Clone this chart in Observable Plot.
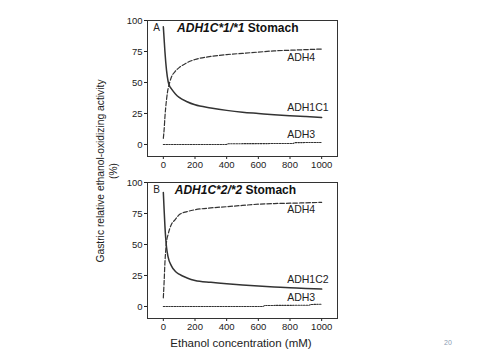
<!DOCTYPE html>
<html>
<head>
<meta charset="utf-8">
<script src="https://cdn.jsdelivr.net/npm/d3@7"></script>
<script src="https://cdn.jsdelivr.net/npm/@observablehq/plot@0.6"></script>
<style>
  html, body { margin: 0; padding: 0; background: #fff; }
  #wrap { position: relative; width: 482px; height: 362px; overflow: hidden; font-family: "Liberation Sans", Arial, sans-serif; }
  .panel { position: absolute; left: 0; }
  #ytitle { position: absolute; width: 240px; left: -13px; top: 159px; height: 24px;
    text-align: center; font-size: 10.3px; line-height: 12.5px; color: #222; transform: rotate(-90deg); transform-origin: 120px 12px; }
  #xtitle { position: absolute; left: 0; width: 482px; top: 337px; text-align: center; font-size: 11.5px; color: #222; }
  #pagenum { position: absolute; left: 444px; top: 339px; font-size: 7px; color: #8a9cb4; }
</style>
</head>
<body>
<div id="wrap">
  <div id="panelA" class="panel" style="top:0px"></div>
  <div id="panelB" class="panel" style="top:162px"></div>
  <div id="ytitle">Gastric relative ethanol-oxidizing activity<br>(%)</div>
  <div id="xtitle">Ethanol concentration (mM)</div>
  <div id="pagenum">20</div>
</div>
<script>
// ---------- Data ----------
const xTicks = [0, 200, 400, 600, 800, 1000];
const yTicks = [0, 25, 50, 75, 100];

// Panel A: ADH1C*1/*1 Stomach
const concA1 = [0, 5, 10, 20, 30, 40, 50, 75, 100, 150, 200, 300, 400, 500, 600, 700, 800, 900, 1000];
const adh1c1A = [95, 85, 75, 60, 51, 47, 45, 41, 38, 34.5, 32, 29.5, 27.5, 26, 25, 24, 23.2, 22.5, 21.8];
const adh4A  = [5, 12, 22, 36, 45, 50, 54, 59, 62, 66, 68.5, 71, 72.5, 73.5, 74.5, 75.5, 76, 76.5, 77];
const concA3 = [0, 400, 410, 820, 830, 1000];
const adh3A  = [0, 0, 0.6, 0.8, 1.5, 1.6];

// Panel B: ADH1C*2/*2 Stomach
const concB1 = [0, 5, 10, 15, 20, 30, 50, 75, 100, 150, 200, 300, 400, 500, 600, 700, 800, 900, 1000];
const adh1c2B = [92, 78, 65, 55, 48, 40, 33, 28.5, 26, 23, 21, 19.5, 18.3, 17.3, 16.5, 15.8, 15.2, 14.5, 14];
const adh4B  = [7, 20, 35, 45, 52, 58, 66, 70, 74, 76.5, 78, 79.5, 80.5, 81.5, 82.5, 83, 83.3, 83.6, 84];
const concB3 = [0, 630, 640, 920, 930, 1000];
const adh3B  = [0, 0, 0.8, 1, 1.6, 1.8];

const panelLetters = ["A", "B"];
const titlesItalic = ["ADH1C*1/*1", "ADH1C*2/*2"];
const titleRest = " Stomach";
const seriesLabelsA = ["ADH4", "ADH1C1", "ADH3"];
const labelYA = [70, 29.6, 8];
const seriesLabelsB = ["ADH4", "ADH1C2", "ADH3"];
const labelYB = [78.5, 22, 6.8];
const labelX = 782;

// ---------- Drawing ----------
const ink = "#333";
const font = "'Liberation Sans', Arial, sans-serif";

function rows(xs, ys) { return xs.map((x, i) => ({x, y: ys[i]})); }

function panel(opts) {
  const svg = Plot.plot({
    width: 482, height: 180,
    marginLeft: 147, marginRight: 145, marginTop: 20, marginBottom: 24,
    style: {fontFamily: font, fontSize: "9.5px", color: "#222", background: "transparent", overflow: "visible"},
    x: {domain: [-100, 1100], ticks: xTicks, tickSize: 3, tickPadding: 2, label: null, tickFormat: d => String(d)},
    y: {domain: [-9.7, 100], ticks: yTicks, tickSize: 3, tickPadding: 2, label: null, tickFormat: d => String(d)},
    marks: [
      Plot.frame({stroke: ink, strokeWidth: 1}),
      Plot.line(rows(opts.c3, opts.s3), {x: "x", y: "y", stroke: ink, strokeWidth: 1.1, strokeDasharray: "1.5,1.2", curve: "linear"}),
      Plot.line(rows(opts.c1, opts.s4), {x: "x", y: "y", stroke: ink, strokeWidth: 1.2, strokeDasharray: "4.5,2", curve: "monotone-x"}),
      Plot.line(rows(opts.c1, opts.s1), {x: "x", y: "y", stroke: ink, strokeWidth: 1.5, curve: "monotone-x"}),
      Plot.text(opts.labels, {x: () => labelX, y: (d, i) => opts.labelY[i], text: d => d, textAnchor: "start",
        fontSize: 10.5, fill: "#222"}),
      Plot.text([opts.letter], {x: -42, y: 94, text: d => d, fontSize: 10, fill: "#222"}),
      Plot.text([opts.titleI + titleRest], {x: opts.titleX, y: 93.5, text: d => d, textAnchor: "start",
        fontSize: 12, fontWeight: "bold", fill: "#111"})
    ]
  });
  // Italic first part of the title
  d3.select(svg).selectAll("text").filter(function() { return this.textContent === opts.titleI + titleRest; })
    .each(function() {
      const t = d3.select(this);
      t.text(null);
      t.append("tspan").attr("font-style", "italic").text(opts.titleI);
      t.append("tspan").text(titleRest);
    });
  return svg;
}

document.getElementById("panelA").appendChild(panel({
  c1: concA1, s1: adh1c1A, s4: adh4A, c3: concA3, s3: adh3A,
  labels: seriesLabelsA, labelY: labelYA, letter: panelLetters[0], titleI: titlesItalic[0], titleX: 87
}));
document.getElementById("panelB").appendChild(panel({
  c1: concB1, s1: adh1c2B, s4: adh4B, c3: concB3, s3: adh3B,
  labels: seriesLabelsB, labelY: labelYB, letter: panelLetters[1], titleI: titlesItalic[1], titleX: 72
}));
</script>
</body>
</html>
